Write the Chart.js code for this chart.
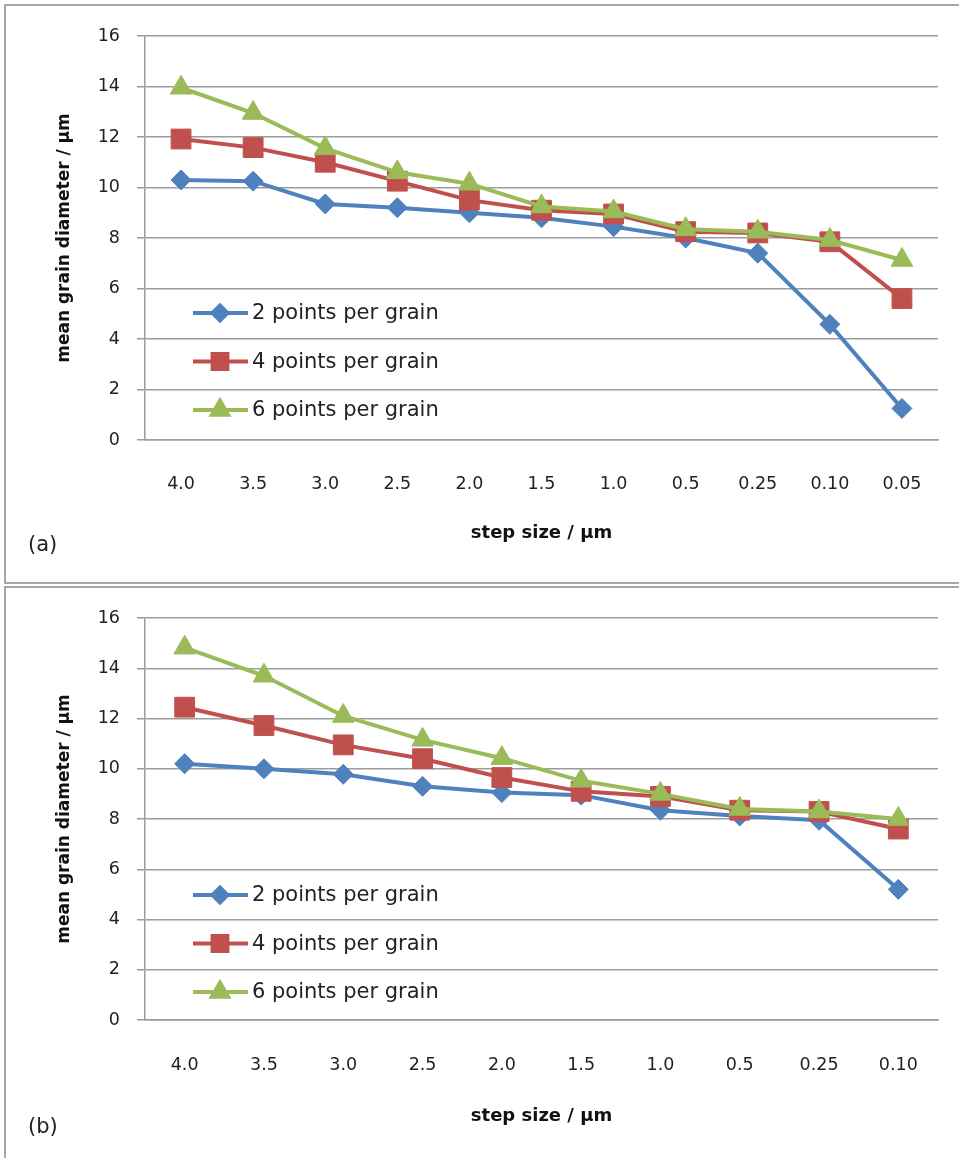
<!DOCTYPE html>
<html>
<head>
<meta charset="utf-8">
<script src="https://cdn.jsdelivr.net/npm/chart.js@4"></script>
<style>
  body { margin: 0; background: #fff; width: 959px; height: 1158px; overflow: hidden; position: relative; font-family: "DejaVu Sans", sans-serif; }
  .panel { position: absolute; left: 4px; width: 980px; border: 2px solid #a6a6a6; }
  #pa { top: 4px; height: 576px; }
  #pb { top: 586px; height: 600px; }
  .panel canvas { position: absolute; left: 0; top: 0; }
  .tag { position: absolute; left: 22px; font-size: 21px; color: #222; }
</style>
</head>
<body>
<div class="panel" id="pa">
  <canvas id="chartA" width="953" height="576"></canvas>
  <div class="tag" style="top:526px">(a)</div>
</div>
<div class="panel" id="pb">
  <canvas id="chartB" width="953" height="570"></canvas>
  <div class="tag" style="top:526px">(b)</div>
</div>
<script>
// step sizes (x categories)
var stepsA = ['4.0', '3.5', '3.0', '2.5', '2.0', '1.5', '1.0', '0.5', '0.25', '0.10', '0.05'];
var stepsB = ['4.0', '3.5', '3.0', '2.5', '2.0', '1.5', '1.0', '0.5', '0.25', '0.10'];

// mean grain diameter, panel (a)
var a2pts = [10.3, 10.25, 9.35, 9.2, 9.0, 8.8, 8.45, 8.0, 7.4, 4.58, 1.25];
var a4pts = [11.92, 11.58, 11.0, 10.25, 9.5, 9.1, 8.95, 8.25, 8.2, 7.85, 5.6];
var a6pts = [13.95, 12.95, 11.55, 10.6, 10.15, 9.25, 9.05, 8.35, 8.25, 7.92, 7.13];

// mean grain diameter, panel (b)
var b2pts = [10.2, 10.0, 9.78, 9.3, 9.05, 8.95, 8.35, 8.12, 7.95, 5.2];
var b4pts = [12.45, 11.72, 10.95, 10.4, 9.65, 9.1, 8.9, 8.35, 8.3, 7.6];
var b6pts = [14.82, 13.7, 12.1, 11.15, 10.42, 9.52, 9.0, 8.4, 8.3, 8.0];

var seriesNames = ['2 points per grain', '4 points per grain', '6 points per grain'];
var yTicks = [0, 2, 4, 6, 8, 10, 12, 14, 16];

var blue = '#4f81bd', red = '#c0504d', green = '#9bbb59';
var gridCol = '#9c9c9c';
var fam = '"DejaVu Sans", sans-serif';

// legend drawn inside the plot area, like the Excel original
var innerLegend = {
    id: 'innerLegend',
    afterDatasetsDraw: function(chart) {
        var ctx = chart.ctx, area = chart.chartArea;
        var sets = chart.data.datasets;
        ctx.save();
        for (var i = 0; i < sets.length; i++) {
            var ds = sets[i];
            var y = area.top + 277 + i * 48.5;
            var x0 = area.left + 48;
            ctx.strokeStyle = ds.borderColor;
            ctx.lineWidth = 4;
            ctx.beginPath();
            ctx.moveTo(x0, y);
            ctx.lineTo(x0 + 55, y);
            ctx.stroke();
            ctx.fillStyle = ds.borderColor;
            Chart.helpers.drawPoint(ctx, {
                pointStyle: ds.pointStyle,
                radius: ds.pointRadius * 0.75,
                rotation: 0,
                borderWidth: 1
            }, x0 + 27, y);
            ctx.fillStyle = '#222';
            ctx.font = '21px ' + fam;
            ctx.textBaseline = 'middle';
            ctx.textAlign = 'left';
            ctx.fillText(ds.label, x0 + 59, y + 1);
        }
        ctx.restore();
    }
};

function makeSet(label, data, color, style, radius, order) {
    return {
        label: label,
        data: data,
        borderColor: color,
        backgroundColor: color,
        pointBackgroundColor: color,
        pointBorderColor: color,
        borderWidth: 4,
        pointStyle: style,
        pointRadius: radius,
        pointBorderWidth: 1,
        tension: 0,
        order: order
    };
}

function makeChart(id, labels, s2, s4, s6, xAxisH, xTickPad, xTitlePad) {
    var ctx = document.getElementById(id).getContext('2d');
    return new Chart(ctx, {
        type: 'line',
        data: {
            labels: labels,
            datasets: [
                makeSet(seriesNames[0], s2, blue, 'rectRot', 10, 3),
                makeSet(seriesNames[1], s4, red, 'rect', 14, 2),
                makeSet(seriesNames[2], s6, green, 'triangle', 12.5, 1)
            ]
        },
        options: {
            responsive: false,
            animation: false,
            layout: { padding: { top: 30, right: 21, left: 0, bottom: 0 } },
            plugins: {
                legend: { display: false },
                tooltip: { enabled: false }
            },
            scales: {
                x: {
                    offset: true,
                    grid: { display: false, drawTicks: false },
                    border: { display: true, color: gridCol, width: 1.5 },
                    ticks: { padding: xTickPad, color: '#222', font: { family: fam, size: 17.5 }, maxRotation: 0 },
                    title: {
                        display: true,
                        text: 'step size / µm',
                        color: '#111',
                        font: { family: fam, size: 18, weight: 'bold' },
                        padding: { top: 0, bottom: xTitlePad }
                    },
                    afterFit: function(scale) { scale.height = xAxisH; }
                },
                y: {
                    min: 0,
                    max: 16,
                    afterBuildTicks: function(scale) {
                        scale.ticks = yTicks.map(function(v) { return { value: v }; });
                    },
                    grid: { color: gridCol, lineWidth: 1.5, tickLength: 8 },
                    border: { display: true, color: gridCol, width: 1.5 },
                    ticks: { padding: 17, color: '#222', font: { family: fam, size: 17.5 } },
                    title: {
                        display: true,
                        text: 'mean grain diameter / µm',
                        color: '#111',
                        font: { family: fam, size: 17, weight: 'bold' },
                        padding: { top: 48, bottom: 0 }
                    },
                    afterFit: function(scale) { scale.width = 139; }
                }
            }
        },
        plugins: [innerLegend]
    });
}

makeChart('chartA', stepsA, a2pts, a4pts, a6pts, 142, 34, 38);
makeChart('chartB', stepsB, b2pts, b4pts, b6pts, 138, 35, 31);
</script>
</body>
</html>
